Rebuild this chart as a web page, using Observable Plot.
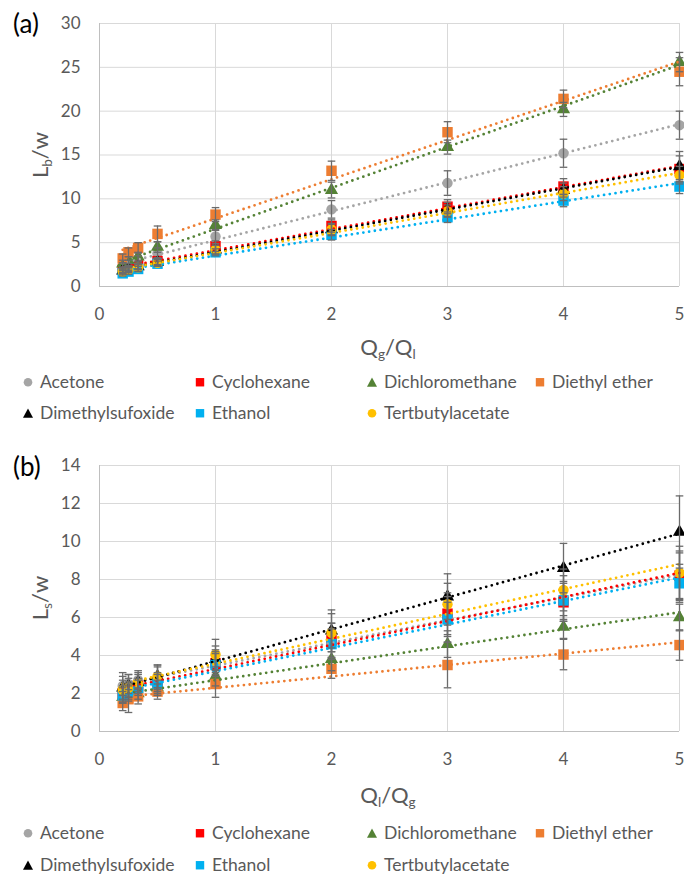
<!DOCTYPE html>
<html><head><meta charset="utf-8">
<script src="https://cdn.jsdelivr.net/npm/d3@7"></script>
<script src="https://cdn.jsdelivr.net/npm/@observablehq/plot@0.6"></script>
<style>
body{margin:0;background:#fff;}
#root{position:relative;width:684px;height:881px;overflow:hidden;font-family:Lato,"Open Sans",sans-serif;color:#595959;}
#root svg{position:absolute;left:0;overflow:visible;}
.t{position:absolute;white-space:nowrap;line-height:1;}
sub{font-size:0.62em;vertical-align:-0.28em;line-height:0;}
.leg{position:absolute;white-space:nowrap;line-height:1;font-size:17.5px;color:#595959;transform:translate(0,-50%);display:flex;align-items:center;}
.leg svg{position:static !important;margin-right:6px;}
</style></head><body><div id="root"></div>
<script>
// ---------- data ----------
const xValues = [0.2, 0.25, 0.333, 0.5, 1, 2, 3, 4, 5];
const xTicks = [0, 1, 2, 3, 4, 5];
const yTicksA = [0, 5, 10, 15, 20, 25, 30];
const yTicksB = [0, 2, 4, 6, 8, 10, 12, 14];
const seriesNames = ["Acetone", "Cyclohexane", "Dichloromethane", "Diethyl ether", "Dimethylsufoxide", "Ethanol", "Tertbutylacetate"];
const seriesColors = ["#A5A5A5", "#FF0000", "#548235", "#ED7D31", "#000000", "#00B0F0", "#FFC000"];
const seriesSymbols = ["circle", "square", "triangle", "square", "triangle", "square", "circle"];

// panel (a): Lb/w vs Qg/Ql
const acetoneA = [2.3, 2.6, 3.0, 3.8, 5.7, 8.8, 11.8, 15.2, 18.4];
const cyclohexaneA = [1.9, 2.1, 2.4, 2.9, 4.6, 6.9, 9.1, 11.4, 13.4];
const dichloromethaneA = [2.6, 3.0, 3.4, 4.5, 7.0, 11.0, 15.9, 20.2, 25.6];
const diethyletherA = [3.2, 3.9, 4.4, 6.0, 8.2, 13.2, 17.6, 21.4, 24.5];
const dmsoA = [1.8, 2.0, 2.3, 2.8, 4.2, 6.5, 8.8, 11.0, 13.7];
const ethanolA = [1.5, 1.7, 2.0, 2.6, 3.9, 5.9, 7.9, 9.8, 11.4];
const tbaA = [1.7, 1.9, 2.2, 2.7, 4.2, 6.5, 8.6, 10.6, 12.7];
const acetoneAErr = [0.4, 0.4, 0.5, 0.6, 0.8, 1.0, 1.4, 1.6, 1.6];
const cyclohexaneAErr = [0.3, 0.3, 0.4, 0.4, 0.6, 0.7, 0.8, 0.9, 1.5];
const dichloromethaneAErr = [0.4, 0.4, 0.5, 0.6, 0.6, 0.9, 0.8, 0.8, 1.1];
const diethyletherAErr = [0.5, 0.5, 0.6, 0.9, 0.8, 1.1, 1.2, 1.0, 1.6];
const dmsoAErr = [0.3, 0.3, 0.3, 0.4, 0.5, 0.7, 0.8, 0.8, 1.7];
const ethanolAErr = [0.3, 0.3, 0.3, 0.3, 0.4, 0.6, 0.6, 0.7, 0.8];
const tbaAErr = [0.3, 0.3, 0.3, 0.4, 0.5, 0.6, 0.7, 0.8, 1.0];

// panel (b): Ls/w vs Ql/Qg
const acetoneB = [2.4, 2.5, 2.7, 2.8, 3.6, 4.8, 5.9, 7.0, 8.2];
const cyclohexaneB = [2.0, 2.2, 2.4, 2.6, 3.6, 4.8, 6.2, 6.8, 8.2];
const dichloromethaneB = [1.8, 1.9, 2.0, 2.3, 2.9, 3.8, 4.6, 5.5, 6.0];
const diethyletherB = [1.5, 1.7, 1.85, 2.1, 2.5, 3.3, 3.5, 4.05, 4.55];
const dmsoB = [2.3, 2.4, 2.6, 2.9, 3.8, 5.3, 7.1, 8.6, 10.5];
const ethanolB = [1.9, 2.1, 2.3, 2.5, 3.5, 4.6, 5.9, 6.9, 7.8];
const tbaB = [2.2, 2.3, 2.5, 2.9, 4.05, 5.2, 6.7, 7.45, 8.35];
const acetoneBErr = [0.5, 0.5, 0.5, 0.6, 0.7, 0.9, 1.2, 1.2, 1.3];
const cyclohexaneBErr = [0.4, 0.4, 0.4, 0.5, 0.6, 0.9, 1.1, 1.0, 1.2];
const dichloromethaneBErr = [0.3, 0.3, 0.3, 0.4, 0.5, 0.6, 0.7, 0.6, 0.7];
const diethyletherBErr = [0.4, 0.7, 0.4, 0.4, 0.7, 0.5, 1.2, 0.8, 0.8];
const dmsoBErr = [0.8, 0.6, 0.5, 0.6, 0.7, 1.1, 1.2, 1.3, 1.9];
const ethanolBErr = [0.4, 0.4, 0.4, 0.5, 0.6, 0.8, 0.9, 1.0, 1.0];
const tbaBErr = [0.5, 0.5, 0.5, 0.6, 0.8, 1.0, 1.1, 1.1, 1.4];

const valuesA = [acetoneA, cyclohexaneA, dichloromethaneA, diethyletherA, dmsoA, ethanolA, tbaA];
const errorsA = [acetoneAErr, cyclohexaneAErr, dichloromethaneAErr, diethyletherAErr, dmsoAErr, ethanolAErr, tbaAErr];
const valuesB = [acetoneB, cyclohexaneB, dichloromethaneB, diethyletherB, dmsoB, ethanolB, tbaB];
const errorsB = [acetoneBErr, cyclohexaneBErr, dichloromethaneBErr, diethyletherBErr, dmsoBErr, ethanolBErr, tbaBErr];

// ---------- drawing ----------
const root = document.getElementById("root");
const symbolR = {circle: 5.2, square: 5.9, triangle: 4.9};
const capSymbol = {draw(ctx, size) { const w = Math.sqrt(size / Math.PI); ctx.moveTo(-w, 0); ctx.lineTo(w, 0); }};

function buildRows(values, errors) {
  return seriesNames.map((name, i) => xValues.map((x, j) => ({series: name, x, y: values[i][j], e: errors[i][j]})));
}

function panel(values, errors, yDomain, yTicks, top, height, marginTop, marginBottom) {
  const rows = buildRows(values, errors);
  const all = rows.flat();
  const marks = [
    Plot.ruleY(yTicks, {stroke: "#d9d9d9", strokeWidth: 1}),
    Plot.ruleX(xTicks, {stroke: "#d9d9d9", strokeWidth: 1}),
    Plot.ruleY([0], {stroke: "#bfbfbf", strokeWidth: 1}),
    Plot.ruleX([0], {stroke: "#bfbfbf", strokeWidth: 1})
  ];
  rows.forEach((r, i) => {
    marks.push(Plot.dot(r, {x: "x", y: "y", symbol: seriesSymbols[i], r: symbolR[seriesSymbols[i]], fill: seriesColors[i], stroke: "none"}));
  });
  rows.forEach((r, i) => {
    marks.push(Plot.linearRegressionY(r, {x: "x", y: "y", stroke: seriesColors[i], strokeWidth: 2.8, strokeDasharray: "0 5.8", strokeLinecap: "round", ci: 0}));
  });
  marks.push(Plot.ruleX(all, {x: "x", y1: d => d.y - d.e, y2: d => d.y + d.e, stroke: "#6b6b6b", strokeWidth: 1.3}));
  marks.push(Plot.dot(all, {x: "x", y: d => d.y + d.e, symbol: capSymbol, r: 3.8, stroke: "#6b6b6b", strokeWidth: 1.3, fill: "none"}));
  marks.push(Plot.dot(all, {x: "x", y: d => d.y - d.e, symbol: capSymbol, r: 3.8, stroke: "#6b6b6b", strokeWidth: 1.3, fill: "none"}));
  const svg = Plot.plot({
    width: 684, height, marginLeft: 99, marginRight: 5, marginTop, marginBottom,
    x: {domain: [0, 5], ticks: xTicks, tickSize: 0, tickPadding: 21, tickFormat: d => String(d), label: null},
    y: {domain: yDomain, ticks: yTicks, tickSize: 0, tickPadding: 19, tickFormat: d => String(d), label: null},
    style: {fontFamily: "Lato, 'Open Sans', sans-serif", fontSize: "17px", color: "#595959", background: "transparent", overflow: "visible"},
    marks
  });
  svg.style.top = top + "px";
  root.appendChild(svg);
}

panel(valuesA, errorsA, [0, 30], yTicksA, 0, 330, 23, 44);
panel(valuesB, errorsB, [0, 14], yTicksB, 440, 330, 25, 39);

function text(html, x, y, opts = {}) {
  const el = document.createElement("div");
  el.className = "t";
  el.innerHTML = html;
  el.style.left = x + "px";
  el.style.top = y + "px";
  el.style.fontSize = (opts.size || 17) + "px";
  if (opts.color) el.style.color = opts.color;
  el.style.transform = (opts.anchor === "start" ? "translate(0,-50%)" : "translate(-50%,-50%)") + (opts.rotate ? " rotate(-90deg)" : "");
  root.appendChild(el);
}

text("(a)", 13, 23, {size: 26, anchor: "start", color: "#000"});
text("(b)", 13, 466, {size: 26, anchor: "start", color: "#000"});
text("L<sub>b</sub>/w", 40, 155, {size: 22, rotate: true});
text("L<sub>s</sub>/w", 40, 598, {size: 22, rotate: true});
text("Q<sub>g</sub>/Q<sub>l</sub>", 388, 347, {size: 22});
text("Q<sub>l</sub>/Q<sub>g</sub>", 388, 795, {size: 22});

function markerSvg(symbol, color) {
  const s = 12;
  let shape;
  if (symbol === "circle") shape = `<circle cx="6" cy="6" r="4.3" fill="${color}"/>`;
  else if (symbol === "square") shape = `<rect x="1.8" y="1.8" width="8.4" height="8.4" fill="${color}"/>`;
  else shape = `<path d="M6,1.2 L11,10.4 L1,10.4 Z" fill="${color}"/>`;
  return `<svg width="${s}" height="${s}" viewBox="0 0 12 12">${shape}</svg>`;
}

const legendCols = [22, 194, 366, 534];
const legendSlots = [[0, 0], [1, 0], [2, 0], [3, 0], [0, 1], [1, 1], [2, 1]];
function legend(rowY) {
  seriesNames.forEach((name, i) => {
    const [c, r] = legendSlots[i];
    const el = document.createElement("div");
    el.className = "leg";
    el.style.left = legendCols[c] + "px";
    el.style.top = rowY[r] + "px";
    el.innerHTML = markerSvg(seriesSymbols[i], seriesColors[i]) + `<span>${name}</span>`;
    root.appendChild(el);
  });
}
legend([382, 413]);
legend([833, 865]);
</script></body></html>
